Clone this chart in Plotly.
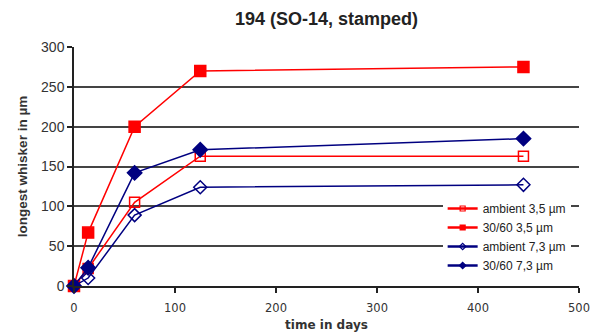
import plotly.graph_objects as go

days = [0, 14, 60, 125, 445]
amb35 = [0, 22, 105, 163, 163]
c3035 = [0, 67, 200, 270, 275]
amb73 = [0, 10, 89, 124, 127]
c3073 = [0, 23, 142, 171, 185]
names = ["ambient 3,5 µm", "30/60 3,5 µm", "ambient 7,3 µm", "30/60 7,3 µm"]

RED = "#ff0000"
NAVY = "#000080"
FONT = "Liberation Sans, Arial, sans-serif"
VFONT = "DejaVu Sans, Verdana, sans-serif"

series = [
    (amb35, RED, "square-open", 10),
    (c3035, RED, "square", 11),
    (amb73, NAVY, "diamond-open", 10),
    (c3073, NAVY, "diamond", 11),
]

fig = go.Figure()
for (vals, col, sym, sz), nm in zip(series, names):
    fig.add_trace(go.Scatter(
        x=days, y=vals, name=nm, mode="lines+markers", showlegend=False,
        line=dict(color=col, width=1.5),
        marker=dict(symbol=sym, size=sz, color=col, line=dict(color=col, width=1.5)),
        cliponaxis=False,
    ))
# legend entries with small markers, as in the reference
for (vals, col, sym, sz), nm in zip(series, names):
    fig.add_trace(go.Scatter(
        x=[None], y=[None], name=nm, mode="lines+markers",
        line=dict(color=col, width=2.5),
        marker=dict(symbol=sym, size=5, color=col, line=dict(color=col, width=1.2)),
    ))

fig.update_layout(
    width=592, height=332,
    margin=dict(l=74, r=13, t=47, b=46),
    paper_bgcolor="white", plot_bgcolor="white",
    font=dict(family=FONT, size=12, color="#222"),
    title=dict(text="<b>194 (SO-14, stamped)</b>", x=0.5, xref="paper", xanchor="center",
               y=0.945, yanchor="middle", font=dict(size=18, color="#222")),
    showlegend=True,
    legend=dict(x=0.73, y=0.385, xanchor="left", yanchor="top",
                bgcolor="white", borderwidth=0,
                font=dict(size=12, color="#222"), tracegroupgap=0,
                itemwidth=30),
)
fig.update_xaxes(
    range=[0, 500], tickvals=[0, 100, 200, 300, 400, 500], automargin=False,
    showgrid=False, zeroline=False,
    showline=True, linecolor="#222", linewidth=1.5,
    ticks="outside", ticklen=5, tickcolor="#222", tickwidth=1.5,
    ticklabelstandoff=5,
    tickfont=dict(size=11.5, family=VFONT, color="#333"),
    tickprefix="<b>", ticksuffix="</b>",
    title=dict(text="<b>time in days</b>", font=dict(size=12, family=VFONT, color="#333"),
               standoff=11),
)
fig.update_yaxes(
    range=[0, 300], tickvals=[0, 50, 100, 150, 200, 250, 300], automargin=False,
    showgrid=True, gridcolor="#444", gridwidth=1.5, zeroline=False,
    showline=True, linecolor="#222", linewidth=1.5,
    ticks="outside", ticklen=5, tickcolor="#222", tickwidth=1.5,
    tickfont=dict(size=14, family=FONT, color="#333"),
    tickprefix="<b>", ticksuffix="</b>",
    title=dict(text="<b>longest whisker in µm</b>", font=dict(size=13.5, color="#333"),
               standoff=10),
)

fig.write_html("out.html")
